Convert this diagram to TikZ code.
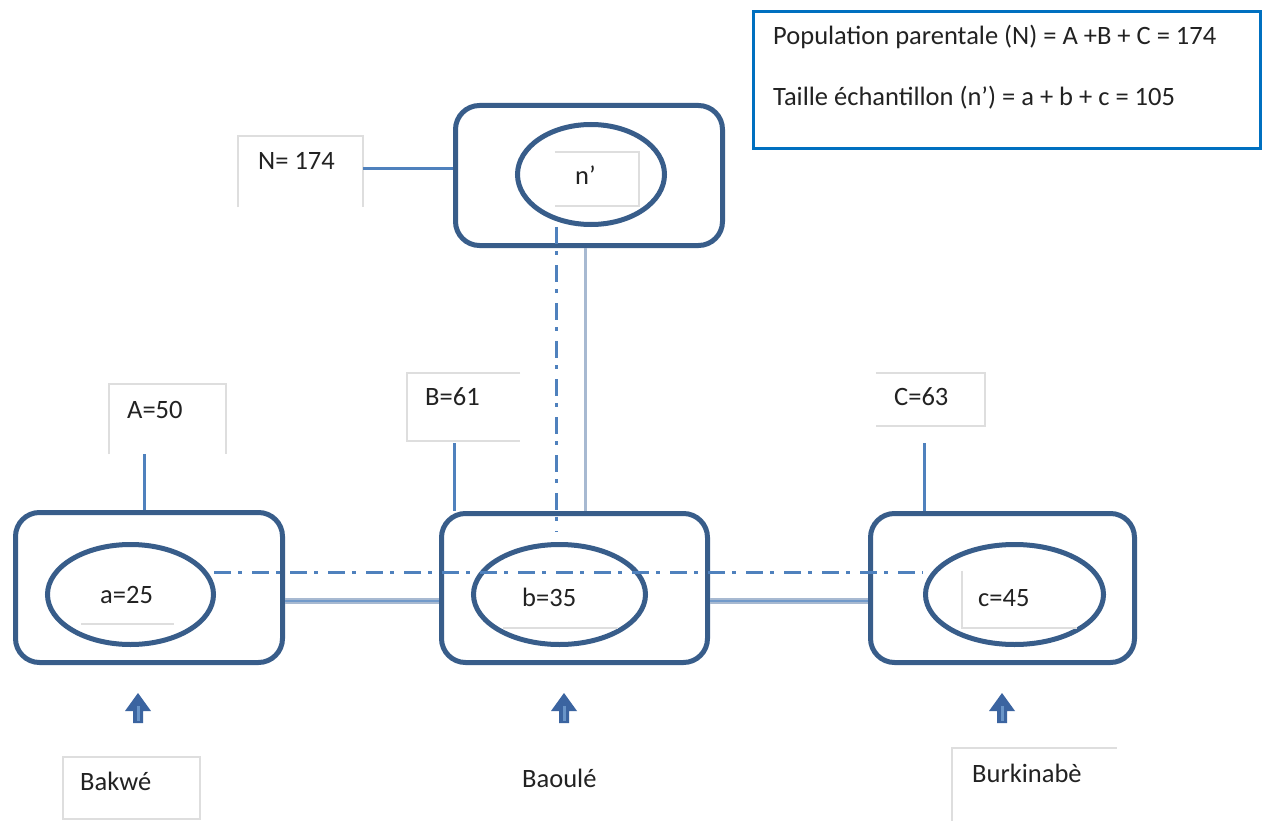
\documentclass[tikz,border=0pt]{standalone}
\usepackage{fontspec}
\setmainfont{Carlito}
\usetikzlibrary{shapes.geometric}
\definecolor{dkblue}{HTML}{385D8A}
\definecolor{acblue}{HTML}{4F81BD}
\definecolor{gblue}{HTML}{A7B9D1}
\definecolor{lgbox}{HTML}{0070C0}
\definecolor{faint}{HTML}{DEDEDE}
\definecolor{txt}{HTML}{222222}
\definecolor{arrfill}{HTML}{3B64A0}
\begin{document}
\begin{tikzpicture}[x=1pt,y=-1pt,
  groupbox/.style={draw=dkblue, line width=5pt, rounded corners=24pt, rectangle, inner sep=0pt},
  sampell/.style={draw=dkblue, line width=5pt, ellipse, inner sep=0pt},
  lbl/.style={text=txt, font=\fontsize{26.5}{32}\selectfont, inner sep=0pt, anchor=base west},
  fbox/.style={draw=none, inner sep=0pt, rectangle},
  faintline/.style={draw=faint, line width=2pt},
  conn/.style={draw=acblue, line width=3pt},
  lconn/.style={draw=gblue, line width=3pt},
  dconn/.style={draw=acblue, line width=3pt, dash pattern=on 17pt off 7pt on 4pt off 10pt},
  hconn/.style={draw=gblue, line width=6pt},
  hconnin/.style={draw=acblue!80, line width=1.5pt},
  uparrow/.pic={
    \fill[arrfill] (-5,15) -- (-5,3) -- (-13,3) -- (0,-15) -- (13,3) -- (5,3) -- (5,15) -- cycle;
    \fill[acblue!85] (-1.5,13) -- (-1.5,-2) -- (1.5,-2) -- (1.5,13) -- cycle;
  }]
\useasboundingbox (0,0) rectangle (1266,821);
\fill[white] (0,0) rectangle (1266,821);

% legend
\node[draw=lgbox, line width=3pt, rectangle, minimum width=507pt, minimum height=137pt, inner sep=0pt] (legend) at (1007,80) {};
\node[lbl] (leg1) at (773,45) {Population parentale (N) = A +B + C = 174};
\node[lbl] (leg2) at (773,106) {Taille échantillon (n’) = a + b + c = 105};

% group boxes
\node[groupbox, minimum width=267pt, minimum height=140pt] (top) at (589,175.5) {};
\node[groupbox, minimum width=267pt, minimum height=150pt] (left) at (149,587.5) {};
\node[groupbox, minimum width=266pt, minimum height=149pt] (mid) at (574.5,588) {};
\node[groupbox, minimum width=264pt, minimum height=149pt] (right) at (1002.5,588) {};

% ellipses
\node[sampell, minimum width=147pt, minimum height=100pt] (nE) at (591,174.5) {};
\node[sampell, minimum width=166pt, minimum height=100pt] (aE) at (130.5,594.5) {};
\node[sampell, minimum width=172pt, minimum height=100pt] (bE) at (559.5,594.5) {};
\node[sampell, minimum width=178pt, minimum height=100pt] (cE) at (1014.5,594.5) {};

% faint text boxes
\node[fbox, minimum width=125pt, minimum height=71pt] (Nbox) at (300.5,171.5) {};
\draw[faintline] (Nbox.south west) -- (Nbox.north west) -- (Nbox.north east) -- (Nbox.south east);
\node[fbox, minimum width=84pt, minimum height=54pt] (nbox) at (597,179) {};
\draw[faintline] (nbox.north west) -- (nbox.north east) -- (nbox.south east) -- (nbox.south west);
\node[fbox, minimum width=117pt, minimum height=70pt] (Abox) at (167.5,419) {};
\draw[faintline] (Abox.south west) -- (Abox.north west) -- (Abox.north east) -- (Abox.south east);
\node[fbox, minimum width=113pt, minimum height=68pt] (Bbox) at (463.5,407) {};
\draw[faintline] (Bbox.north east) -- (Bbox.north west) -- (Bbox.south west) -- (Bbox.south east);
\node[fbox, minimum width=109pt, minimum height=53pt] (Cbox) at (930.5,399.5) {};
\draw[faintline] (Cbox.north west) -- (Cbox.north east) -- (Cbox.south east) -- (Cbox.south west);
\node[fbox, minimum width=115pt, minimum height=57pt] (cbox) at (1019.5,599.5) {};
\draw[faintline] (cbox.north west) -- (cbox.south west) -- (cbox.south east);
\node[fbox, minimum width=137pt, minimum height=62pt] (bkbox) at (131.5,788) {};
\draw[faintline] (bkbox.south west) rectangle (bkbox.north east);
\node[fbox, minimum width=165pt, minimum height=80pt] (bubox) at (1034.5,788) {};
\draw[faintline] (bubox.south west) -- (bubox.north west) -- (bubox.north east);
\coordinate (aul1) at (81,624);
\coordinate (aul2) at (174,624);
\draw[faintline] (aul1) -- (aul2);
\coordinate (bul1) at (503,628);
\coordinate (bul2) at (618,628);
\draw[faintline] (bul1) -- (bul2);

% labels
\node[lbl] (tN) at (258,170) {N= 174};
\node[lbl] (tn) at (575,185) {n’};
\node[lbl] (tA) at (127,418) {A=50};
\node[lbl] (ta) at (100,603) {a=25};
\node[lbl] (tB) at (425,405) {B=61};
\node[lbl] (tb) at (522,606) {b=35};
\node[lbl] (tC) at (894,405) {C=63};
\node[lbl] (tc) at (978,606) {c=45};
\node[lbl] (tbk) at (80,790) {Bakwé};
\node[lbl] (tbo) at (522,787) {Baoulé};
\node[lbl] (tbu) at (972,782) {Burkinabè};

% connectors
\draw[conn] ([yshift=2.5pt]Nbox.east) -- ([yshift=2.5pt]Nbox.east -| top.west);
\draw[conn] ([xshift=-23.5pt]Abox.south) -- ([xshift=-23.5pt]Abox.south |- left.north);
\draw[conn] ([xshift=-9.5pt,yshift=-2pt]Bbox.south) -- ([xshift=-9.5pt]Bbox.south |- mid.north);
\coordinate (Cfoot) at (924,443);
\draw[conn] (Cfoot) -- (Cfoot |- right.north);
\draw[lconn] ([xshift=-4pt]top.south) -- ([xshift=-4pt]top.south |- mid.north);
\coordinate (dvEnd) at (556,532);
\draw[dconn] (nE.south -| dvEnd) -- (dvEnd);
\coordinate (dhA) at (214,572);
\coordinate (dhC) at (923,572);
\draw[dconn] (dhA) -- (dhC);
\draw[hconn] ([yshift=-13.5pt]left.east) -- ([yshift=-13.5pt]left.east -| mid.west);
\draw[hconnin] ([yshift=-13.5pt]left.east) -- ([yshift=-13.5pt]left.east -| mid.west);
\draw[hconn] ([yshift=-13pt]mid.east) -- ([yshift=-13pt]mid.east -| right.west);
\draw[hconnin] ([yshift=-13pt]mid.east) -- ([yshift=-13pt]mid.east -| right.west);

% up arrows
\pic at (138,708) {uparrow};
\pic at (564,708) {uparrow};
\pic at (1002,708) {uparrow};
\end{tikzpicture}
\end{document}
